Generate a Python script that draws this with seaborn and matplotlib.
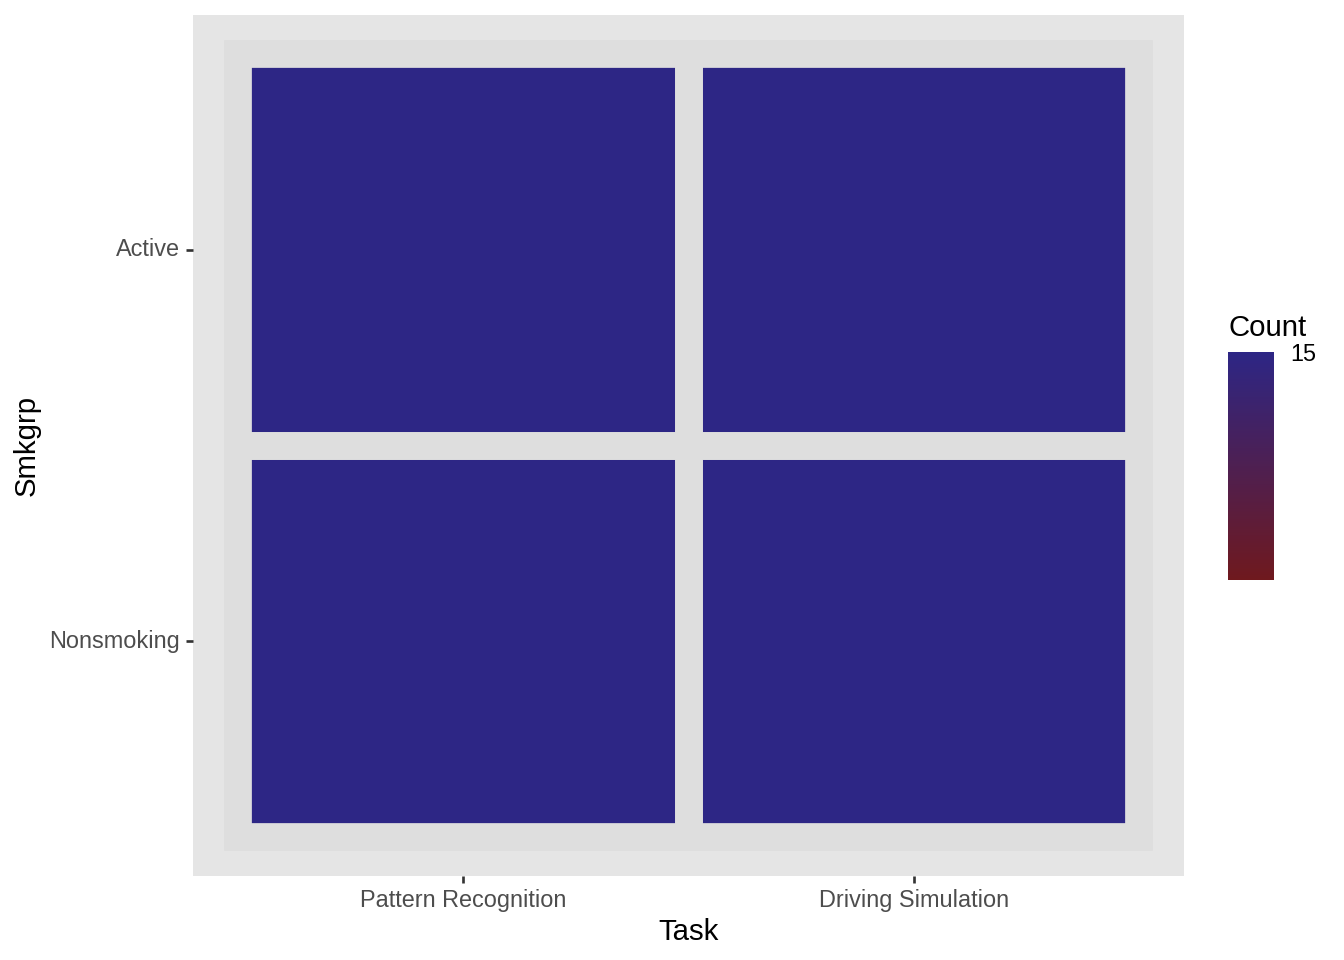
import numpy as np
import pandas as pd
import matplotlib
matplotlib.use("Agg")
import matplotlib.pyplot as plt
from matplotlib.colors import LinearSegmentedColormap
from matplotlib.patches import Rectangle
import seaborn as sns

# data
tasks = ["Pattern Recognition", "Driving Simulation"]
groups = ["Active", "Nonsmoking"]
counts = [[15, 15],
          [15, 15]]

df = pd.DataFrame(counts, index=groups, columns=tasks)

sns.set_style("white")
plt.rcParams["font.family"] = ["Liberation Sans", "DejaVu Sans"]
plt.rcParams["axes.facecolor"] = "#E5E5E5"

fig = plt.figure(figsize=(7, 5), dpi=192)
ax = fig.add_axes([193 / 1344, 84 / 960, 991 / 1344, 861 / 960])
cax = fig.add_axes([1228 / 1344, 380 / 960, 46 / 1344, 228 / 960])

cmap = LinearSegmentedColormap.from_list("redblue", ["#6F191E", "#2D2685"])

sns.heatmap(df, ax=ax, cbar_ax=cax, cmap=cmap, vmin=14.0, vmax=15,
            linewidths=0, cbar_kws={"ticks": [15]})
mesh = ax.collections[0]

# tile borders (ggplot-style thick grey outline around each tile)
for i in range(len(groups)):
    for j in range(len(tasks)):
        ax.add_patch(Rectangle((j, i), 1, 1, fill=False, edgecolor="#DEDEDE",
                               linewidth=10.4, joinstyle="miter", zorder=3))

ax.set_facecolor("#E5E5E5")
ax.set_xlim(-0.1, 2.1)
ax.set_ylim(2.1, -0.1)
ax.set_xlabel("Task", fontsize=11, color="black", labelpad=2)
ax.set_ylabel("Smkgrp", fontsize=11, color="black", labelpad=3)
ax.tick_params(axis="both", which="both", length=2.75, width=1.0, color="#333333",
               labelsize=8.8, labelcolor="#4D4D4D", pad=2.2, bottom=True, left=True)
ax.set_yticklabels(groups, rotation=0)
ax.set_xticklabels(tasks, rotation=0)
for s in ax.spines.values():
    s.set_visible(False)

cbar = mesh.colorbar
cbar.outline.set_visible(False)
cax.tick_params(axis="y", direction="in", length=3.2, width=0.8, color="white",
                left=True, right=True, labelsize=8.8, labelcolor="black", pad=6)
cax.set_title("Count", loc="left", fontsize=11, pad=6, color="black")

fig.savefig("out.png", dpi=192)
